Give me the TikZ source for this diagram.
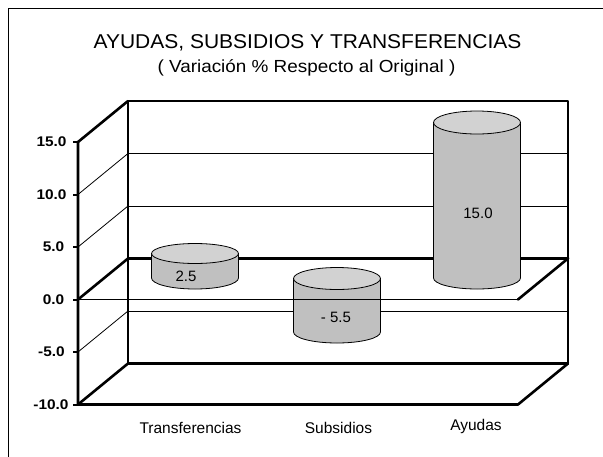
\documentclass[tikz,border=0pt]{standalone}
\usepackage{fontspec}
\setmainfont{Liberation Sans}
\newfontfamily\titlefont[FakeStretch=1.05]{Liberation Sans}
\newfontfamily\subtitlefont[FakeStretch=1.08]{Liberation Sans}
\newfontfamily\tickfont[FakeStretch=1.1]{Liberation Sans}
\usepackage{tikz}
\usetikzlibrary{positioning}
\usepackage{xcolor}
\definecolor{cylbody}{RGB}{192,192,192}
\definecolor{cyltop}{RGB}{210,210,210}
\tikzstyle{wallthick} = [line width=2.6pt, line cap=round, line join=round]
\tikzstyle{zeroline} = [line width=1.8pt, line cap=round]
\tikzstyle{gridthin} = [line width=0.8pt]
\tikzstyle{tickmark} = [line width=2pt]
\tikzstyle{cylside} = [draw, line width=0.8pt, fill=cylbody]
\tikzstyle{cylcap} = [draw, line width=0.8pt, fill=cyltop]
\tikzstyle{ticklabel} = [font=\tickfont\fontsize{14}{16}\selectfont\bfseries]
\tikzstyle{catlabel} = [font=\fontsize{15.5}{17}\selectfont, anchor=base]
\tikzstyle{vallabel} = [font=\fontsize{15}{17}\selectfont]

\begin{document}
\begin{tikzpicture}[x=1pt, y=-1pt]
    \useasboundingbox (0,0) rectangle (603,456);

    % Outer frame, cut by the page on the right and below
    \begin{scope}
        \clip (0,0) rectangle (603,456);
        \draw[line width=1.5pt] (8.5,8.5) rectangle (650,500);
    \end{scope}

    % Title
    \node[font=\titlefont\fontsize{20}{22}\selectfont, anchor=base] (title) at (307.5,48.5) {AYUDAS, SUBSIDIOS Y TRANSFERENCIAS};
    \node[font=\subtitlefont\fontsize{17.5}{19}\selectfont, anchor=base] (subtitle) at (306.5,72.5) {( Variación \% Respecto al Original )};

    % Thin grid lines on the back wall and the side
    \draw[gridthin] (128,153.5) -- (568,153.5);
    \draw[gridthin] (128,206) -- (568,206);
    \draw[gridthin] (128,311) -- (568,311);
    \draw[gridthin] (78,194.5) -- (128,153.5);
    \draw[gridthin] (78,247) -- (128,206);
    \draw[gridthin] (78,352) -- (128,311);

    % Back wall, floor and value axis
    \draw[wallthick] (128,101) rectangle (568,363.5);
    \draw[wallthick] (78,142) -- (128,101);
    \draw[wallthick] (78,142) -- (78,404.5) -- (518,404.5) -- (568,363.5);
    \draw[wallthick] (78,404.5) -- (128,363.5);

    % Zero plane (back part)
    \draw[wallthick] (128,258.5) -- (568,258.5);
    \draw[wallthick] (78,299.5) -- (128,258.5);
    \draw[wallthick] (518,299.5) -- (568,258.5);

    % Ticks and their labels
    \draw[tickmark] (73,142) -- (78,142);
    \draw[tickmark] (73,194.5) -- (78,194.5);
    \draw[tickmark] (73,247) -- (78,247);
    \draw[tickmark] (73,299.5) -- (78,299.5);
    \draw[tickmark] (73,352) -- (78,352);
    \draw[tickmark] (73,404.5) -- (78,404.5);
    \node[ticklabel] (t15) at (51.5,142) {15.0};
    \node[ticklabel] (t10) at (51.5,194.5) {10.0};
    \node[ticklabel] (t5) at (53.5,247) {5.0};
    \node[ticklabel] (t0) at (53.5,299.5) {0.0};
    \node[ticklabel] (tm5) at (51.5,352) {-5.0};
    \node[ticklabel] (tm10) at (51,404.5) {-10.0};

    % Transferencias cylinder
    \draw[cylside] (151.5,253.5) -- (151.5,278) arc[start angle=180, end angle=360, x radius=43.5pt, y radius=11pt] -- (238.5,253.5) -- cycle;
    \draw[cylcap] (195,253.5) ellipse[x radius=43.5pt, y radius=10pt];
    \node[vallabel] (v1) at (186,276) {2.5};

    % Subsidios cylinder
    \draw[cylside] (293.5,278.5) -- (293.5,332) arc[start angle=180, end angle=360, x radius=43.5pt, y radius=11pt] -- (380.5,278.5) -- cycle;
    \draw[cylcap] (337,278.5) ellipse[x radius=43.5pt, y radius=11pt];
    \node[vallabel] (v2) at (336,317) {- 5.5};

    % Ayudas cylinder
    \draw[cylside] (433.5,122.5) -- (433.5,278) arc[start angle=180, end angle=360, x radius=43.5pt, y radius=11pt] -- (520.5,122.5) -- cycle;
    \draw[cylcap] (477,122.5) ellipse[x radius=43.5pt, y radius=11.5pt];
    \node[vallabel] (v3) at (478,213) {15.0};

    % Zero plane (front edge, in front of the cylinders)
    \draw[zeroline] (78,299.5) -- (518,299.5);

    % Category labels
    \node[catlabel] (c1) at (190.5,433.5) {Transferencias};
    \node[catlabel] (c2) at (338.5,433) {Subsidios};
    \node[catlabel] (c3) at (476,430.5) {Ayudas};
\end{tikzpicture}
\end{document}
